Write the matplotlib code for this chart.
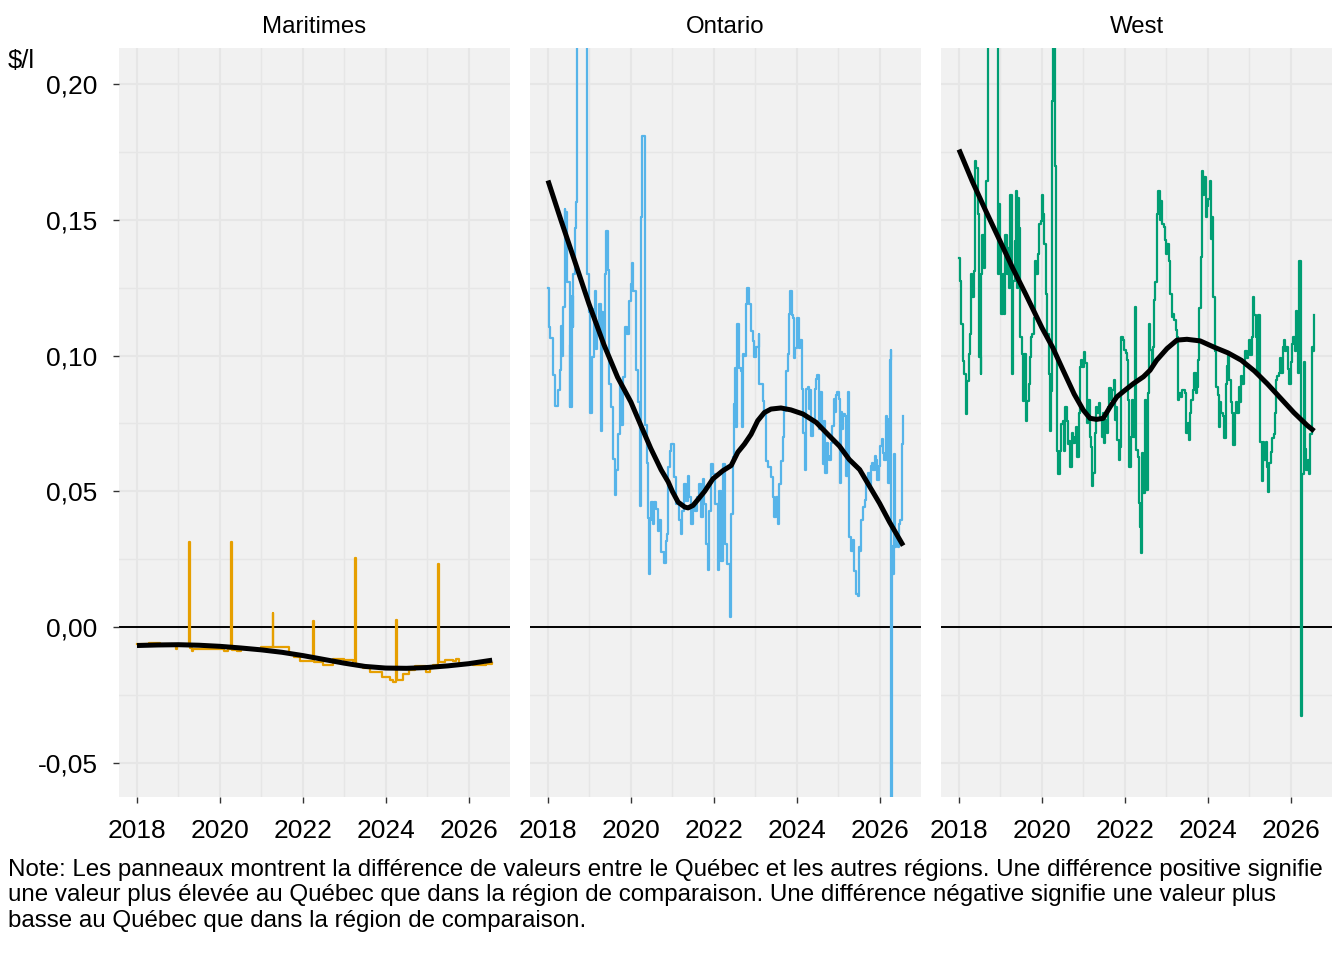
import matplotlib
matplotlib.use("Agg")
import matplotlib.pyplot as plt
import numpy as np

plt.rcParams['font.family'] = ['Liberation Sans', 'DejaVu Sans']

# ---------------- data ----------------
panels = ["Maritimes", "Ontario", "West"]
colors = ["#E69F00", "#56B4E9", "#009E73"]

mar_t = [2018.00, 2018.30, 2018.55, 2018.88, 2018.93, 2018.97, 2019.256, 2019.276, 2019.32, 2019.36,
         2019.60, 2019.95, 2020.11, 2020.20, 2020.264, 2020.284, 2020.42, 2020.50, 2020.80, 2021.00,
         2021.272, 2021.292, 2021.55, 2021.66, 2021.80, 2021.94, 2022.256, 2022.276, 2022.50, 2022.74,
         2023.00, 2023.22, 2023.264, 2023.284, 2023.45, 2023.62, 2023.90, 2024.10, 2024.18, 2024.248,
         2024.268, 2024.42, 2024.56, 2024.70, 2024.98, 2025.06, 2025.14, 2025.256, 2025.276, 2025.42,
         2025.62, 2025.70, 2025.78, 2026.10, 2026.42, 2026.56]
mar_v = [-0.0063, -0.0060, -0.0062, -0.0065, -0.0080, -0.0066, 0.0313, -0.0078, -0.0088, -0.0080,
         -0.0082, -0.0080, -0.0087, -0.0082, 0.0313, -0.0084, -0.0088, -0.0082, -0.0080, -0.0074,
         0.0053, -0.0075, -0.0072, -0.0099, -0.0110, -0.0124, 0.0021, -0.0129, -0.0139, -0.0118,
         -0.0120, -0.0124, 0.0254, -0.0139, -0.0150, -0.0167, -0.0183, -0.0196, -0.0203, 0.0027,
         -0.0196, -0.0173, -0.0160, -0.0145, -0.0167, -0.0150, -0.0139, 0.0232, -0.0128, -0.0122,
         -0.0124, -0.0118, -0.0136, -0.0139, -0.0137, -0.0133]

ont_t = [2018.00, 2018.02, 2018.06, 2018.11, 2018.13, 2018.17, 2018.23, 2018.29, 2018.31, 2018.35,
         2018.37, 2018.40, 2018.42, 2018.44, 2018.47, 2018.52, 2018.53, 2018.55, 2018.58, 2018.60,
         2018.61, 2018.65, 2018.67, 2018.69, 2018.93, 2018.95, 2018.99, 2019.02, 2019.05, 2019.07,
         2019.11, 2019.14, 2019.15, 2019.19, 2019.23, 2019.27, 2019.30, 2019.32, 2019.37, 2019.40,
         2019.44, 2019.48, 2019.53, 2019.58, 2019.61, 2019.65, 2019.69, 2019.73, 2019.77, 2019.81,
         2019.85, 2019.90, 2019.95, 2020.00, 2020.03, 2020.06, 2020.12, 2020.16, 2020.21, 2020.25,
         2020.28, 2020.33, 2020.35, 2020.39, 2020.42, 2020.44, 2020.45, 2020.48, 2020.53, 2020.56,
         2020.61, 2020.65, 2020.68, 2020.73, 2020.81, 2020.84, 2020.86, 2020.90, 2020.94, 2020.98,
         2021.05, 2021.10, 2021.16, 2021.21, 2021.24, 2021.29, 2021.32, 2021.37, 2021.40, 2021.46,
         2021.51, 2021.54, 2021.59, 2021.64, 2021.69, 2021.74, 2021.77, 2021.82, 2021.85, 2021.88,
         2021.93, 2021.98, 2022.04, 2022.09, 2022.12, 2022.17, 2022.22, 2022.28, 2022.33, 2022.38,
         2022.42, 2022.46, 2022.49, 2022.52, 2022.54, 2022.57, 2022.60, 2022.65, 2022.69, 2022.71,
         2022.74, 2022.78, 2022.81, 2022.84, 2022.89, 2022.94, 2022.98, 2023.03, 2023.08, 2023.10,
         2023.18, 2023.22, 2023.27, 2023.32, 2023.37, 2023.42, 2023.45, 2023.50, 2023.54, 2023.58,
         2023.62, 2023.66, 2023.70, 2023.75, 2023.78, 2023.81, 2023.84, 2023.89, 2023.92, 2023.94,
         2023.97, 2024.02, 2024.05, 2024.08, 2024.13, 2024.16, 2024.19, 2024.23, 2024.27, 2024.29,
         2024.32, 2024.35, 2024.39, 2024.44, 2024.47, 2024.50, 2024.53, 2024.56, 2024.60, 2024.63,
         2024.66, 2024.69, 2024.73, 2024.76, 2024.79, 2024.82, 2024.85, 2024.89, 2024.92, 2024.95,
         2024.98, 2025.02, 2025.05, 2025.07, 2025.10, 2025.13, 2025.16, 2025.19, 2025.23, 2025.26,
         2025.27, 2025.31, 2025.35, 2025.39, 2025.42, 2025.47, 2025.50, 2025.53, 2025.56, 2025.60,
         2025.65, 2025.68, 2025.73, 2025.76, 2025.79, 2025.82, 2025.85, 2025.89, 2025.92, 2025.95,
         2025.98, 2026.02, 2026.05, 2026.08, 2026.11, 2026.15, 2026.18, 2026.21, 2026.24, 2026.27,
         2026.28, 2026.30, 2026.31, 2026.34, 2026.37, 2026.40, 2026.44, 2026.47, 2026.50, 2026.53,
         2026.55, 2026.57]
ont_v = [0.125, 0.1105, 0.1066, 0.101, 0.093, 0.0816, 0.0875, 0.0947, 0.111, 0.100,
         0.118, 0.154, 0.147, 0.153, 0.127, 0.081, 0.104, 0.081, 0.122, 0.1105,
         0.130, 0.147, 0.1566, 0.26, 0.1414, 0.130, 0.116, 0.079, 0.0934, 0.0993,
         0.117, 0.1237, 0.1026, 0.1105, 0.119, 0.0724, 0.116, 0.104, 0.130, 0.146,
         0.1316, 0.0895, 0.081, 0.062, 0.0487, 0.058, 0.071, 0.0908, 0.0743, 0.092,
         0.1105, 0.108, 0.120, 0.1263, 0.134, 0.1237, 0.0947, 0.083, 0.0447, 0.151,
         0.181, 0.150, 0.0743, 0.0605, 0.040, 0.0197, 0.0394, 0.046, 0.038, 0.046,
         0.0434, 0.0355, 0.0394, 0.0276, 0.0237, 0.0316, 0.0343, 0.0589, 0.065, 0.0674,
         0.0552, 0.0454, 0.0393, 0.0343, 0.0429, 0.0527, 0.0466, 0.0558, 0.0478, 0.038,
         0.0454, 0.0429, 0.0478, 0.0527, 0.0405, 0.0546, 0.0454, 0.0307, 0.0209, 0.0429,
         0.060, 0.0564, 0.0454, 0.0209, 0.0503, 0.0245, 0.060, 0.0307, 0.0233, 0.0037,
         0.0417, 0.0625, 0.0821, 0.0956, 0.0736, 0.1115, 0.0956, 0.0944, 0.0736, 0.1005,
         0.0999, 0.1189, 0.125, 0.1189, 0.109, 0.1054, 0.0993, 0.103, 0.1079, 0.0895,
         0.0834, 0.0785, 0.0613, 0.0589, 0.0552, 0.0478, 0.0405, 0.0478, 0.038, 0.0527,
         0.0613, 0.0699, 0.0797, 0.0944, 0.1005, 0.1152, 0.1238, 0.115, 0.1138, 0.099,
         0.1027, 0.1138, 0.1027, 0.1058, 0.0878, 0.0716, 0.058, 0.0878, 0.0884, 0.0803,
         0.0872, 0.0704, 0.0754, 0.0878, 0.0915, 0.0927, 0.0729, 0.0865, 0.0741, 0.0599,
         0.076, 0.0568, 0.0679, 0.063, 0.0617, 0.0679, 0.0741, 0.0841, 0.0791, 0.0853,
         0.0865, 0.0841, 0.053, 0.0791, 0.0729, 0.0785, 0.0779, 0.0555, 0.0865, 0.0568,
         0.0332, 0.0282, 0.032, 0.0208, 0.0121, 0.0115, 0.0295, 0.0282, 0.0394, 0.0444,
         0.0468, 0.0543, 0.0568, 0.0518, 0.0592, 0.0605, 0.058, 0.063, 0.0617, 0.0543,
         0.0592, 0.0667, 0.0692, 0.0642, 0.0617, 0.0779, 0.0766, 0.053, 0.0983, 0.102,
         -0.075, 0.0300, 0.0195, 0.0636, 0.0295, 0.0344, 0.0295, 0.0381, 0.0394, 0.0506,
         0.0673, 0.0779]

wst_t = [2018.00, 2018.02, 2018.04, 2018.06, 2018.10, 2018.13, 2018.16, 2018.19, 2018.23, 2018.26,
         2018.29, 2018.32, 2018.36, 2018.39, 2018.42, 2018.45, 2018.48, 2018.52, 2018.53, 2018.56,
         2018.60, 2018.63, 2018.66, 2018.69, 2018.93, 2018.95, 2018.97, 2019.00, 2019.02, 2019.05,
         2019.09, 2019.11, 2019.15, 2019.18, 2019.21, 2019.24, 2019.27, 2019.31, 2019.34, 2019.37,
         2019.40, 2019.42, 2019.45, 2019.48, 2019.52, 2019.55, 2019.58, 2019.61, 2019.65, 2019.68,
         2019.71, 2019.74, 2019.77, 2019.81, 2019.84, 2019.87, 2019.90, 2019.94, 2019.97, 2020.00,
         2020.03, 2020.06, 2020.10, 2020.13, 2020.16, 2020.19, 2020.23, 2020.25, 2020.27, 2020.31,
         2020.34, 2020.37, 2020.40, 2020.44, 2020.47, 2020.50, 2020.53, 2020.56, 2020.60, 2020.63,
         2020.66, 2020.69, 2020.73, 2020.76, 2020.79, 2020.82, 2020.85, 2020.89, 2020.92, 2020.95,
         2020.98, 2021.02, 2021.05, 2021.08, 2021.11, 2021.15, 2021.18, 2021.21, 2021.24, 2021.27,
         2021.31, 2021.34, 2021.37, 2021.40, 2021.44, 2021.47, 2021.50, 2021.53, 2021.56, 2021.60,
         2021.63, 2021.66, 2021.69, 2021.73, 2021.76, 2021.79, 2021.82, 2021.85, 2021.89, 2021.92,
         2021.95, 2021.98, 2022.02, 2022.05, 2022.08, 2022.11, 2022.15, 2022.18, 2022.21, 2022.24,
         2022.27, 2022.31, 2022.34, 2022.37, 2022.40, 2022.42, 2022.45, 2022.48, 2022.52, 2022.55,
         2022.58, 2022.61, 2022.65, 2022.68, 2022.71, 2022.74, 2022.77, 2022.81, 2022.84, 2022.87,
         2022.90, 2022.94, 2022.97, 2023.00, 2023.03, 2023.06, 2023.10, 2023.13, 2023.16, 2023.19,
         2023.23, 2023.26, 2023.29, 2023.32, 2023.35, 2023.39, 2023.42, 2023.45, 2023.48, 2023.52,
         2023.55, 2023.58, 2023.61, 2023.65, 2023.68, 2023.71, 2023.74, 2023.77, 2023.80, 2023.83,
         2023.86, 2023.89, 2023.92, 2023.95, 2023.98, 2024.02, 2024.05, 2024.08, 2024.11, 2024.14,
         2024.17, 2024.21, 2024.24, 2024.27, 2024.30, 2024.33, 2024.37, 2024.40, 2024.44, 2024.46,
         2024.49, 2024.52, 2024.56, 2024.59, 2024.62, 2024.65, 2024.68, 2024.71, 2024.75, 2024.78,
         2024.81, 2024.84, 2024.87, 2024.90, 2024.94, 2024.97, 2025.00, 2025.03, 2025.06, 2025.10,
         2025.13, 2025.16, 2025.19, 2025.22, 2025.25, 2025.27, 2025.30, 2025.33, 2025.37, 2025.40,
         2025.43, 2025.46, 2025.49, 2025.52, 2025.56, 2025.59, 2025.62, 2025.65, 2025.68, 2025.71,
         2025.75, 2025.78, 2025.81, 2025.84, 2025.87, 2025.90, 2025.94, 2025.97, 2026.00, 2026.03,
         2026.06, 2026.10, 2026.13, 2026.16, 2026.17, 2026.21, 2026.24, 2026.26, 2026.28, 2026.29,
         2026.32, 2026.35, 2026.38, 2026.41, 2026.44, 2026.48, 2026.51, 2026.54, 2026.57]
wst_v = [0.136, 0.1275, 0.1226, 0.1116, 0.0981, 0.0932, 0.0785, 0.0907, 0.1005, 0.1079,
         0.130, 0.1214, 0.1312, 0.1716, 0.1691, 0.152, 0.0993, 0.0932, 0.130, 0.1446,
         0.1324, 0.1544, 0.1642, 0.26, 0.1691, 0.130, 0.1557, 0.1422, 0.1152, 0.130,
         0.1152, 0.1446, 0.130, 0.1397, 0.125, 0.1593, 0.0932, 0.1275, 0.1422, 0.1606,
         0.125, 0.1581, 0.1471, 0.1067, 0.1005, 0.0834, 0.1005, 0.076, 0.0834, 0.0895,
         0.0993, 0.1067, 0.1079, 0.114, 0.1348, 0.130, 0.1373, 0.1483, 0.1495, 0.1593,
         0.152, 0.141, 0.1226, 0.1079, 0.0932, 0.0724, 0.0871, 0.1936, 0.26, 0.170,
         0.1005, 0.065, 0.0564, 0.065, 0.0748, 0.076, 0.065, 0.0809, 0.076, 0.0675,
         0.0687, 0.0591, 0.0714, 0.0677, 0.0701, 0.0738, 0.0628, 0.0787, 0.0959, 0.0983,
         0.0959, 0.1014, 0.0971, 0.075, 0.0836, 0.0701, 0.0665, 0.0518, 0.0567, 0.0714,
         0.0812, 0.0787, 0.0824, 0.0763, 0.0701, 0.0787, 0.0677, 0.0763, 0.0714, 0.0812,
         0.0879, 0.0836, 0.0873, 0.091, 0.0763, 0.0812, 0.0689, 0.0616, 0.0665, 0.1069,
         0.1057, 0.102, 0.1008, 0.0983, 0.0836, 0.0591, 0.0701, 0.0836, 0.0701, 0.1179,
         0.0652, 0.0628, 0.0456, 0.037, 0.0272, 0.064, 0.0493, 0.0836, 0.0505, 0.0861,
         0.1118, 0.102, 0.0959, 0.1032, 0.1204, 0.1271, 0.1522, 0.1608, 0.1498, 0.1571,
         0.1485, 0.1473, 0.1424, 0.1375, 0.1412, 0.135, 0.1228, 0.1142, 0.1155, 0.113,
         0.1093, 0.1069, 0.0836, 0.0861, 0.0849, 0.0873, 0.0873, 0.0861, 0.0714, 0.075,
         0.0689, 0.0787, 0.0836, 0.0873, 0.0934, 0.0861, 0.0885, 0.0983, 0.1176, 0.1363,
         0.168, 0.159, 0.1656, 0.151, 0.155, 0.1576, 0.1642, 0.143, 0.151, 0.1216,
         0.1016, 0.0883, 0.0856, 0.0737, 0.083, 0.079, 0.0777, 0.0697, 0.0896, 0.0963,
         0.1003, 0.091, 0.083, 0.079, 0.067, 0.079, 0.083, 0.079, 0.0883, 0.083,
         0.0923, 0.0896, 0.0963, 0.1016, 0.099, 0.1003, 0.1056, 0.1003, 0.107, 0.1216,
         0.115, 0.107, 0.0936, 0.115, 0.115, 0.0683, 0.0537, 0.0683, 0.0617, 0.0683,
         0.059, 0.0497, 0.0603, 0.0643, 0.0697, 0.071, 0.079, 0.091, 0.0923, 0.0936,
         0.099, 0.0936, 0.103, 0.1056, 0.1016, 0.103, 0.095, 0.0896, 0.0976, 0.1043,
         0.107, 0.1016, 0.1163, 0.1123, 0.0936, 0.1349, 0.0963, -0.0329, 0.0563, 0.0563,
         0.0976, 0.0657, 0.0577, 0.0617, 0.0563, 0.071, 0.103, 0.1016, 0.115]

# loess-style trend lines
mar_s_t = [2018.0, 2018.5, 2019.0, 2019.5, 2020.0, 2020.5, 2021.0, 2021.5, 2022.0, 2022.5,
           2023.0, 2023.5, 2024.0, 2024.5, 2025.0, 2025.5, 2026.0, 2026.57]
mar_s_v = [-0.0068, -0.0066, -0.0065, -0.0067, -0.0071, -0.0077, -0.0084, -0.0093, -0.0105, -0.0119,
           -0.0133, -0.0145, -0.0151, -0.0152, -0.0149, -0.0143, -0.0135, -0.0122]

ont_s_t = [2018.0, 2018.31, 2018.63, 2018.99, 2019.35, 2019.68, 2020.0, 2020.24, 2020.48, 2020.73,
           2020.90, 2021.0, 2021.14, 2021.30, 2021.38, 2021.50, 2021.62, 2021.78, 2021.98, 2022.22,
           2022.42, 2022.58, 2022.74, 2022.90, 2023.06, 2023.22, 2023.38, 2023.62, 2023.86, 2024.15,
           2024.47, 2024.79, 2025.03, 2025.27, 2025.52, 2025.76, 2026.0, 2026.24, 2026.57]
ont_s_v = [0.1645, 0.150, 0.1355, 0.119, 0.104, 0.092, 0.0829, 0.0743, 0.0658, 0.0579,
           0.0535, 0.0500, 0.046, 0.0442, 0.0439, 0.0448, 0.047, 0.050, 0.0546, 0.0576,
           0.0595, 0.0644, 0.0674, 0.071, 0.076, 0.079, 0.0803, 0.0807, 0.0800, 0.0785,
           0.0754, 0.0704, 0.0667, 0.0617, 0.058, 0.0518, 0.0456, 0.0387, 0.0300]

wst_s_t = [2018.0, 2018.32, 2018.65, 2018.99, 2019.29, 2019.61, 2020.0, 2020.26, 2020.5, 2020.78,
           2021.0, 2021.16, 2021.32, 2021.48, 2021.65, 2021.81, 2022.01, 2022.21, 2022.45, 2022.61,
           2022.77, 2023.02, 2023.26, 2023.5, 2023.82, 2024.17, 2024.49, 2024.81, 2025.13, 2025.44,
           2025.76, 2026.08, 2026.40, 2026.57]
wst_s_v = [0.1759, 0.1642, 0.1532, 0.1422, 0.1324, 0.1226, 0.1103, 0.103, 0.095, 0.0858,
           0.0799, 0.0769, 0.0765, 0.0769, 0.0812, 0.0848, 0.0873, 0.0897, 0.0922, 0.0946,
           0.0983, 0.1026, 0.1057, 0.106, 0.1054, 0.103, 0.101, 0.0983, 0.0943, 0.0896,
           0.0843, 0.079, 0.0743, 0.0722]

series = [(mar_t, mar_v), (ont_t, ont_v), (wst_t, wst_v)]
trends = [(mar_s_t, mar_s_v), (ont_s_t, ont_s_v), (wst_s_t, wst_s_v)]

x_ticks = [2018, 2020, 2022, 2024, 2026]
x_minor = [2019, 2021, 2023, 2025]
y_ticks = [-0.05, 0.00, 0.05, 0.10, 0.15, 0.20]
y_labels = ["-0,05", "0,00", "0,05", "0,10", "0,15", "0,20"]
y_minor = [-0.025, 0.025, 0.075, 0.125, 0.175]

note = ("Note: Les panneaux montrent la différence de valeurs entre le Québec et les autres régions. "
        "Une différence positive signifie\nune valeur plus élevée au Québec que dans la région de comparaison. "
        "Une différence négative signifie une valeur plus\nbasse au Québec que dans la région de comparaison.")

# ---------------- figure ----------------
W, H = 1344, 960
fig = plt.figure(figsize=(W / 100, H / 100), dpi=100)
fig.patch.set_facecolor("white")

panel_left = [119, 530, 941]
panel_w = 391
top_px, bot_px = 48, 797

bg = "#F1F1F1"
grid_c = "#E6E6E6"

for i, name in enumerate(panels):
    ax = fig.add_axes([panel_left[i] / W, 1 - bot_px / H, panel_w / W, (bot_px - top_px) / H])
    ax.set_facecolor(bg)
    ax.set_xlim(2017.566, 2027.0)
    ax.set_ylim(-0.0626, 0.2133)
    for s in ax.spines.values():
        s.set_visible(False)
    # grid
    for xv in x_ticks:
        ax.axvline(xv, color=grid_c, lw=1.5, zorder=0)
    for xv in x_minor:
        ax.axvline(xv, color=grid_c, lw=1.0, zorder=0)
    for yv in y_ticks:
        ax.axhline(yv, color=grid_c, lw=1.5, zorder=0)
    for yv in y_minor:
        ax.axhline(yv, color=grid_c, lw=1.0, zorder=0)
    ax.axhline(0, color="black", lw=1.4, zorder=1)
    t, v = series[i]
    ax.step(t, v, where="post", color=colors[i], lw=1.6, zorder=2)
    st, sv = trends[i]
    ax.plot(st, sv, color="black", lw=3.6, zorder=3, solid_capstyle="butt",
            solid_joinstyle="round")

    ax.set_xticks(x_ticks)
    ax.set_xticklabels([str(x) for x in x_ticks])
    ax.set_yticks(y_ticks)
    ax.tick_params(axis="x", length=4.5, width=1, color="#333333", labelsize=19, pad=11,
                   labelcolor="black")
    if i == 0:
        ax.set_yticklabels(y_labels)
        ax.tick_params(axis="y", length=4.5, width=1, color="#333333", labelsize=19, pad=11,
                       labelcolor="black")
    else:
        ax.tick_params(axis="y", length=0, labelleft=False)
    fig.text((panel_left[i] + panel_w / 2) / W, 1 - 27 / H, name, ha="center", va="center",
             fontsize=17.3, color="black")

fig.text(8 / W, 1 - 61 / H, r"\$/l", ha="left", va="center", fontsize=18.5)
fig.text(8 / W, 1 - 859 / H, note, ha="left", va="top", fontsize=17.4, linespacing=1.2)

fig.savefig("out.png", dpi=100, facecolor="white")
